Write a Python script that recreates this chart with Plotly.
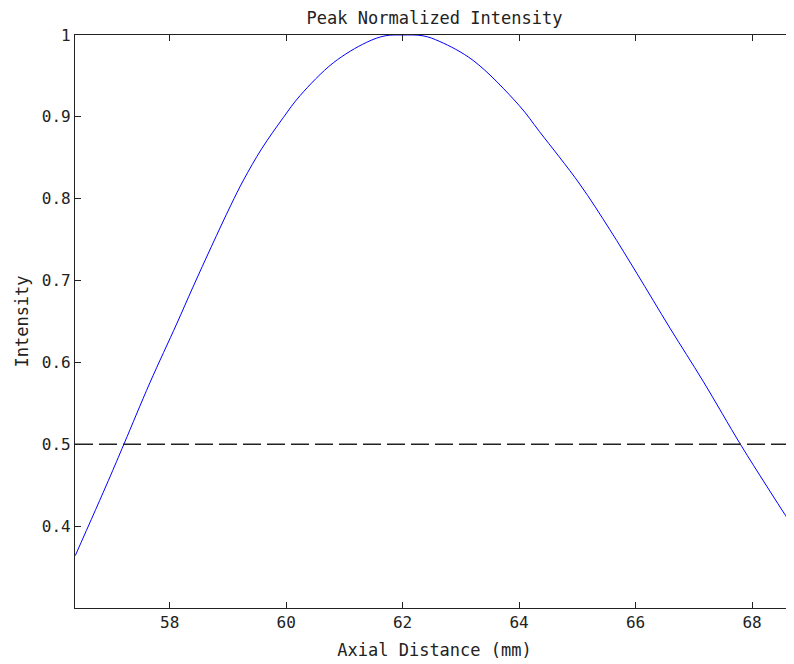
import plotly.graph_objects as go

axial_mm = [56.38, 56.95, 57.22, 57.66, 58.12, 58.40, 58.72, 59.05, 59.27, 59.58,
            59.95, 60.24, 60.81, 61.38, 61.70, 62.00, 62.35, 62.64, 63.21, 64.00,
            64.35, 65.04, 65.56, 66.02, 66.59, 67.16, 67.80, 68.25, 68.72]
intensity = [0.364, 0.456, 0.501, 0.575, 0.647, 0.692, 0.742, 0.792, 0.823, 0.861,
             0.899, 0.926, 0.966, 0.991, 0.999, 1.000, 0.999, 0.992, 0.969, 0.914,
             0.882, 0.818, 0.762, 0.709, 0.642, 0.577, 0.500, 0.449, 0.397]
half_max_x = [56.375, 68.72]
half_max_y = [0.5, 0.5]

x_ticks = [58, 60, 62, 64, 66, 68]
y_ticks = [0.4, 0.5, 0.6, 0.7, 0.8, 0.9, 1.0]
y_tick_text = ["0.4", "0.5", "0.6", "0.7", "0.8", "0.9", "1"]

FONT = "DejaVu Sans Mono"
INK = "#222222"

# page has an 8px body margin, so the figure is sized to fit inside the window
W, H = 786, 656

fig = go.Figure()
fig.add_trace(go.Scatter(x=axial_mm, y=intensity, mode="lines",
                         line=dict(color="#0000ff", width=1, shape="spline", smoothing=1.0),
                         showlegend=False, hoverinfo="skip"))
fig.add_trace(go.Scatter(x=half_max_x, y=half_max_y, mode="lines",
                         line=dict(color=INK, width=1.6, dash="18px,6px"),
                         showlegend=False, hoverinfo="skip"))

fig.update_layout(
    width=W, height=H,
    margin=dict(l=67, r=0, t=27, b=56),
    paper_bgcolor="white", plot_bgcolor="white",
    font=dict(family=FONT, size=16, color=INK),
    title=dict(text="Peak Normalized Intensity", x=426.5 / W, xanchor="center",
               y=1 - 10 / H, yanchor="middle", font=dict(family=FONT, size=17, color=INK)),
    xaxis=dict(range=[56.375, 68.72], tickvals=x_ticks, ticks="inside", ticklen=6,
               tickcolor=INK, showline=True, linecolor=INK, linewidth=1.2,
               mirror="ticks", showgrid=False, zeroline=False, automargin=False,
               title=dict(text="Axial Distance (mm)", standoff=12,
                          font=dict(family=FONT, size=17, color=INK)),
               tickfont=dict(family=FONT, size=16)),
    yaxis=dict(range=[0.3, 1.0], tickvals=y_ticks, ticktext=y_tick_text, ticks="inside",
               ticklen=6, tickcolor=INK, showline=True, linecolor=INK,
               linewidth=1.2, mirror=False, showgrid=False, zeroline=False, automargin=False,
               title=dict(text="Intensity", standoff=8,
                          font=dict(family=FONT, size=17, color=INK)),
               tickfont=dict(family=FONT, size=16)),
)

fig.write_html("out.html")
